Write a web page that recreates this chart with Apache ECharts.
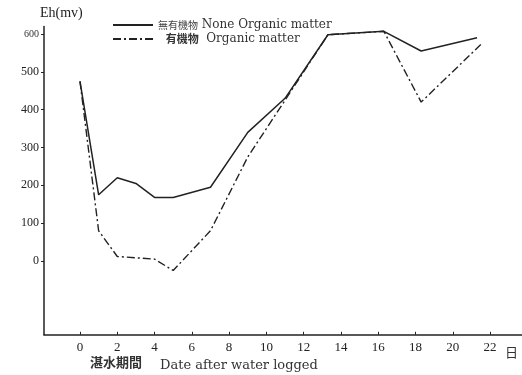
<!DOCTYPE html>
<html>
<head>
<meta charset="utf-8">
<script src="https://cdn.jsdelivr.net/npm/echarts@6/dist/echarts.min.js"></script>
<style>html,body{margin:0;padding:0;background:#fff}#c{width:522px;height:375px}</style>
</head>
<body>
<div id="c"></div>
<script>
// ---- data ----
const xTicks = [0, 2, 4, 6, 8, 10, 12, 14, 16, 18, 20, 22];
const yTicks = [0, 100, 200, 300, 400, 500, 600];
const nameNone = '無有機物 None Organic matter';
const nameOrg = '有機物  Organic matter';
const daysNone = [0, 1, 2, 3, 4, 5, 7, 9, 11, 13.3, 16.3, 18.3, 21.3];
const ehNone = [475, 175, 220, 205, 168, 168, 195, 340, 430, 598, 607, 555, 590];
const daysOrg = [0, 1, 2, 4, 5, 7, 9, 11, 13.3, 16.3, 18.3, 21.5];
const ehOrg = [475, 80, 12, 5, -25, 80, 275, 425, 598, 607, 420, 572];

const serif = '"Liberation Serif","DejaVu Serif",serif';
const wide = '"DejaVu Serif","Liberation Serif",serif';
const cjkF = '"Noto Sans CJK TC","Noto Sans CJK SC",sans-serif';
const ink = '#222';

const chart = echarts.init(document.getElementById('c'), null, {renderer: 'canvas'});
chart.setOption({
  animation: false,
  backgroundColor: '#fff',
  grid: {left: 44, right: 0, top: 26.4, bottom: 40.2, containLabel: false},
  legend: {
    orient: 'vertical', left: 107, top: 14, itemGap: 2,
    itemWidth: 40, itemHeight: 10,
    itemStyle: {opacity: 0},
    textStyle: {
      fontFamily: wide, fontSize: 12, lineHeight: 12, color: '#333',
      rich: {
        c: {fontFamily: cjkF, fontSize: 10, color: '#444'},
        d: {fontFamily: cjkF, fontSize: 11, fontWeight: 'bold', color: '#333'}
      }
    },
    formatter: n => {
      const i = n.indexOf(' ');
      const zh = n.slice(0, i);
      const en = n.slice(i).trim();
      return n === nameNone ? '{c|' + zh + '} ' + en : '  {d|' + zh + '}  ' + en;
    },
    data: [nameNone, nameOrg]
  },
  xAxis: {
    type: 'value', min: -1.93, max: 23.71,
    axisLine: {onZero: false, lineStyle: {color: ink, width: 1.5}},
    axisTick: {customValues: xTicks, length: 3, inside: true, lineStyle: {color: ink}},
    axisLabel: {customValues: xTicks, color: '#222', fontFamily: serif, fontSize: 13, margin: 6},
    splitLine: {show: false}
  },
  yAxis: {
    type: 'value', min: -195, max: 620,
    axisLine: {show: true, onZero: false, lineStyle: {color: ink, width: 1.5}},
    axisTick: {customValues: yTicks, length: 3, lineStyle: {color: ink}},
    axisLabel: {
      customValues: yTicks, color: '#222', fontFamily: serif, fontSize: 12, margin: 5,
      formatter: v => v === 600 ? '{s|600}' : String(v),
      rich: {s: {fontSize: 10, fontFamily: serif, color: '#333'}}
    },
    splitLine: {show: false}
  },
  series: [
    {
      name: nameNone, type: 'line', showSymbol: false, symbol: 'none',
      data: daysNone.map((d, i) => [d, ehNone[i]]),
      lineStyle: {color: ink, width: 1.5, type: 'solid'},
      itemStyle: {color: ink}
    },
    {
      name: nameOrg, type: 'line', showSymbol: false, symbol: 'none',
      data: daysOrg.map((d, i) => [d, ehOrg[i]]),
      lineStyle: {color: ink, width: 1.4, type: [8, 3, 2, 3]},
      itemStyle: {color: ink}
    }
  ],
  graphic: [
    {type: 'text', left: 40, top: 6, style: {text: 'Eh(mv)', font: '14px ' + serif, fill: '#222'}},
    {type: 'text', left: 505, top: 346, style: {text: '日', font: '13px ' + cjkF, fill: '#333'}},
    {type: 'text', left: 90, top: 356, style: {text: '湛水期間', font: 'bold 13px ' + cjkF, fill: '#333'}},
    {type: 'text', left: 160, top: 359, style: {text: 'Date after water logged', font: '13px ' + wide, fill: '#333'}}
  ]
});
</script>
</body>
</html>
